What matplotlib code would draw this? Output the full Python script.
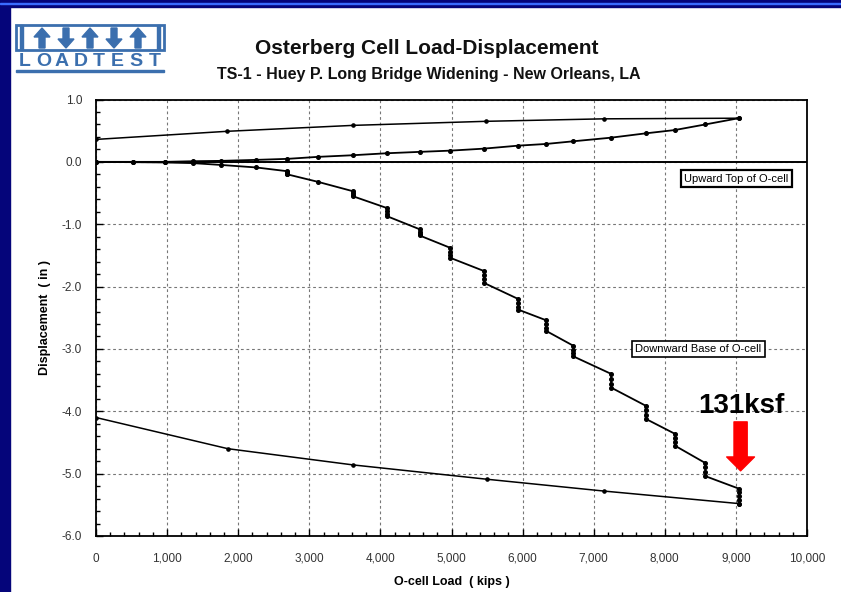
import matplotlib.pyplot as plt
import matplotlib.patches as mpatches
import numpy as np
from matplotlib.ticker import FuncFormatter, MultipleLocator

plt.rcParams['font.family'] = ['Liberation Sans', 'DejaVu Sans']

# Load steps (kips)
loads = [0, 515, 970, 1360, 1765, 2255, 2690, 3120, 3610, 4090, 4550,
         4985, 5455, 5940, 6330, 6715, 7245, 7730, 8140, 8570, 9040]

# Upward top of O-cell (in)
up_disp = [0.0, 0.0, 0.0, 0.01, 0.016, 0.032, 0.048, 0.08, 0.106, 0.138, 0.16,
           0.18, 0.212, 0.26, 0.287, 0.33, 0.388, 0.457, 0.51, 0.60, 0.70]
up_unload_load = [9040, 7140, 5480, 3615, 1845, 0]
up_unload_disp = [0.70, 0.69, 0.65, 0.585, 0.49, 0.36]

# Downward base of O-cell, readings held at each load step (in)
down_hold = [
    [0.0], [-0.005], [-0.01], [-0.02], [-0.05], [-0.09],
    [-0.15, -0.17, -0.19, -0.20],
    [-0.32],
    [-0.47, -0.50, -0.53, -0.55],
    [-0.74, -0.79, -0.83, -0.87],
    [-1.08, -1.12, -1.15, -1.18],
    [-1.38, -1.44, -1.50, -1.54],
    [-1.75, -1.82, -1.88, -1.94],
    [-2.20, -2.26, -2.32, -2.37],
    [-2.54, -2.60, -2.66, -2.71],
    [-2.95, -3.01, -3.07, -3.12],
    [-3.40, -3.48, -3.56, -3.62],
    [-3.91, -3.98, -4.06, -4.12],
    [-4.36, -4.43, -4.50, -4.55],
    [-4.83, -4.90, -4.98, -5.04],
    [-5.24, -5.30, -5.36, -5.42, -5.48],
]
down_unload_load = [9040, 7150, 5500, 3615, 1855, 0]
down_unload_disp = [-5.48, -5.28, -5.09, -4.86, -4.60, -4.10]

W, H = 841, 592
fig = plt.figure(figsize=(W / 100, H / 100), dpi=100)
fig.patch.set_facecolor('white')

# slide border
fig.add_artist(mpatches.Rectangle((0, 0), 10 / W, 1, transform=fig.transFigure,
                                  color='#05057a', zorder=0))
fig.add_artist(mpatches.Rectangle((0, 1 - 7 / H), 1, 7 / H, transform=fig.transFigure,
                                  color='#05057a', zorder=0))
fig.add_artist(mpatches.Rectangle((0, 1 - 4 / H), 1, 1.5 / H, transform=fig.transFigure,
                                  color='#3a6cff', zorder=1))

ax = fig.add_axes([96 / W, 1 - 536 / H, 711 / W, 436.5 / H])

# build series
dl_x, dl_y = [], []
for ld, vals in zip(loads, down_hold):
    for v in vals:
        dl_x.append(ld)
        dl_y.append(v)

ax.plot(loads, up_disp, color='black', lw=1.3, marker='o', ms=2.6, zorder=4)
ax.plot(up_unload_load, up_unload_disp, color='black', lw=1.1, marker='o', ms=2.3, zorder=4)
ax.plot(dl_x, dl_y, color='black', lw=1.3, marker='o', ms=2.6, zorder=4)
ax.plot(down_unload_load, down_unload_disp, color='black', lw=1.1, marker='o', ms=2.3, zorder=4)
ax.axhline(0, color='black', lw=1.4, zorder=3)

ax.set_xlim(0, 10000)
ax.set_ylim(-6.0, 1.0)
ax.xaxis.set_major_locator(MultipleLocator(1000))
ax.xaxis.set_minor_locator(MultipleLocator(200))
ax.yaxis.set_major_locator(MultipleLocator(1.0))
ax.yaxis.set_minor_locator(MultipleLocator(0.2))
ax.xaxis.set_major_formatter(FuncFormatter(lambda v, p: f'{int(v):,}'))
ax.yaxis.set_major_formatter(FuncFormatter(lambda v, p: f'{v:.1f}'))
ax.tick_params(which='both', direction='in', colors='black', labelcolor='#333333',
               labelsize=8.5)
ax.tick_params(which='major', length=5, width=1)
ax.tick_params(which='minor', length=3, width=1)
ax.tick_params(axis='x', pad=12)
ax.tick_params(axis='y', pad=10)
ax.grid(True, which='major', color='#777777', ls=(0, (2.5, 2.5)), lw=0.8)
for s in ax.spines.values():
    s.set_linewidth(1.3)

ax.set_xlabel('O-cell Load  ( kips )', fontsize=9, fontweight='bold', labelpad=8)
ax.set_ylabel('Displacement  ( in )', fontsize=9, fontweight='bold', labelpad=8)

# labels in boxes
ax.text(9010, -0.27, 'Upward Top of O-cell', fontsize=8, ha='center', va='center',
        bbox=dict(boxstyle='square,pad=0.3', fc='white', ec='black', lw=1.6), zorder=5)
ax.text(8470, -3.0, 'Downward Base of O-cell', fontsize=8, ha='center', va='center',
        bbox=dict(boxstyle='square,pad=0.3', fc='white', ec='black', lw=1.2), zorder=5)

# annotation
ax.text(9080, -3.91, '131ksf', fontsize=20, fontweight='bold', ha='center', va='center',
        zorder=6)
ax.annotate('', xy=(9066, -4.955), xytext=(9066, -4.17),
            arrowprops=dict(arrowstyle='simple,head_length=1.0,head_width=2.0,tail_width=0.95',
                            mutation_scale=10, color='#ff0000', shrinkA=0, shrinkB=0),
            zorder=6)

# titles
fig.text(427 / W, 1 - 49 / H, 'Osterberg Cell Load-Displacement', fontsize=15,
         fontweight='bold', ha='center', va='center', color='#111111')
fig.text(429 / W, 1 - 75 / H, 'TS-1 - Huey P. Long Bridge Widening - New Orleans, LA',
         fontsize=11.5, fontweight='bold', ha='center', va='center', color='#111111')

# logo
blue = '#3b6fae'
lax = fig.add_axes([14 / W, 1 - 74 / H, 152 / W, 52 / H])
lax.set_xlim(0, 152)
lax.set_ylim(52, 0)
lax.axis('off')
lax.add_patch(mpatches.Rectangle((2, 3), 148, 25, fill=False, ec=blue, lw=2))
lax.add_patch(mpatches.Rectangle((6, 3), 2.5, 25, color=blue))
lax.add_patch(mpatches.Rectangle((143.5, 3), 2.5, 25, color=blue))
for i, up in enumerate([True, False, True, False, True]):
    cx = 28 + i * 24
    if up:
        lax.add_patch(mpatches.FancyArrow(cx, 26, 0, -20, width=6, head_width=16,
                                          head_length=9, length_includes_head=True,
                                          color=blue))
    else:
        lax.add_patch(mpatches.FancyArrow(cx, 6, 0, 20, width=6, head_width=16,
                                          head_length=9, length_includes_head=True,
                                          color=blue))
for i, ch in enumerate('LOADTEST'):
    lax.text(11 + i * 18.5, 39.5, ch, fontsize=14, fontweight='bold', color=blue,
             ha='center', va='center')
lax.add_patch(mpatches.Rectangle((2, 47.5), 148, 2.5, color=blue))

fig.savefig('out.png', dpi=100)
